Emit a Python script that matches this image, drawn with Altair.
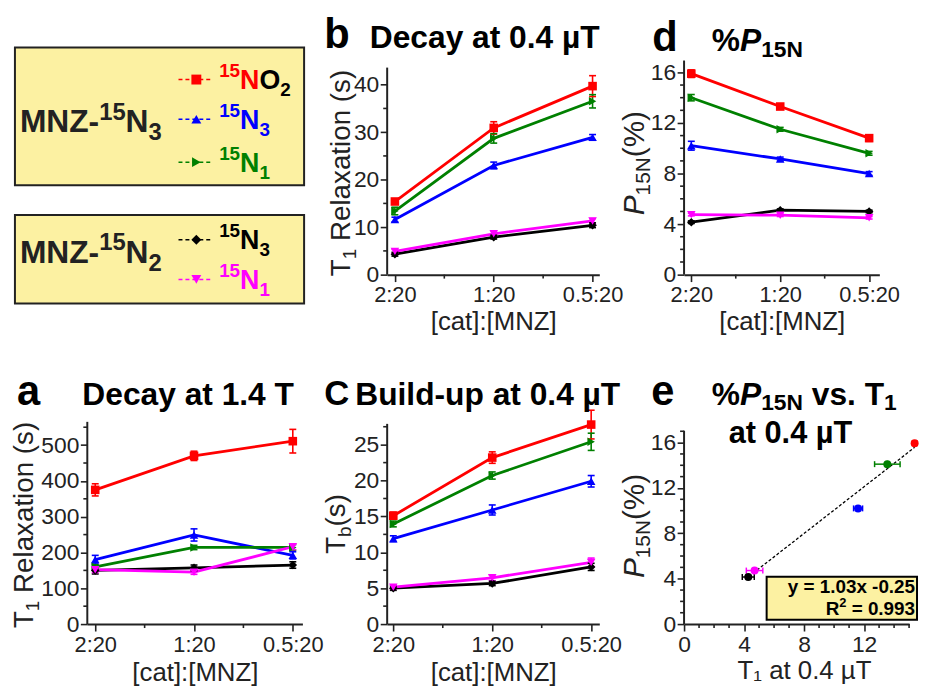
import json
import altair as alt
import pandas as pd

# ---------------- data ----------------
categories = ["2:20", "1:20", "0.5:20"]
series = ["15NO2", "15N3", "15N1", "15N3 (MNZ-15N2)", "15N1 (MNZ-15N2)"]
colors = ["#ff0000", "#0000ff", "#008000", "#000000", "#ff00ff"]
shapes = ["square", "triangle-up", "triangle-right", "diamond", "triangle-down"]

# (a) T1 decay at 1.4 T (s)
a_vals = {"15NO2": [375, 470, 511], "15N3": [180, 249, 192], "15N1": [160, 214, 214],
          "15N3 (MNZ-15N2)": [150, 157, 165], "15N1 (MNZ-15N2)": [152, 145, 216]}
a_errs = {"15NO2": [17, 13, 33], "15N3": [12, 17, 10], "15N1": [6, 6, 8],
          "15N3 (MNZ-15N2)": [10, 8, 9], "15N1 (MNZ-15N2)": [8, 6, 8]}
# (b) T1 decay at 0.4 uT (s)
b_vals = {"15NO2": [15.4, 30.9, 39.7], "15N3": [11.6, 23.0, 28.9], "15N1": [13.4, 28.7, 36.5],
          "15N3 (MNZ-15N2)": [4.3, 7.9, 10.4], "15N1 (MNZ-15N2)": [4.9, 8.6, 11.3]}
b_errs = {"15NO2": [0.5, 1.3, 2.2], "15N3": [0.5, 0.7, 0.6], "15N1": [0.8, 1.0, 1.4],
          "15N3 (MNZ-15N2)": [0.4, 0.4, 0.5], "15N1 (MNZ-15N2)": [0.4, 0.5, 0.5]}
# (c) build-up Tb at 0.4 uT (s)
c_vals = {"15NO2": [15.1, 23.2, 27.8], "15N3": [11.9, 15.9, 19.9], "15N1": [13.95, 20.7, 25.4],
          "15N3 (MNZ-15N2)": [5.0, 5.66, 7.97], "15N1 (MNZ-15N2)": [5.15, 6.45, 8.6]}
c_errs = {"15NO2": [0.5, 0.8, 2.0], "15N3": [0.4, 0.7, 0.8], "15N1": [0.4, 0.5, 1.2],
          "15N3 (MNZ-15N2)": [0.3, 0.3, 0.5], "15N1 (MNZ-15N2)": [0.3, 0.4, 0.6]}
# (d) %P15N
d_vals = {"15NO2": [15.9, 13.3, 10.8], "15N3": [10.2, 9.15, 8.0], "15N1": [14.0, 11.5, 9.6],
          "15N3 (MNZ-15N2)": [4.15, 5.1, 5.0], "15N1 (MNZ-15N2)": [4.75, 4.7, 4.5]}
d_errs = {"15NO2": [0.3, 0.15, 0.25], "15N3": [0.35, 0.15, 0.15], "15N1": [0.25, 0.15, 0.15],
          "15N3 (MNZ-15N2)": [0.1, 0.1, 0.1], "15N1 (MNZ-15N2)": [0.1, 0.1, 0.1]}
# (e) %P15N vs T1 at 0.4 uT (series order as `series`)
e_t = [15.37, 11.6, 13.55, 4.28, 4.7]
e_t_err = [0.15, 0.3, 0.85, 0.4, 0.55]
e_p = [15.94, 10.2, 14.1, 4.15, 4.72]
e_p_err = [0.2, 0.3, 0.3, 0.15, 0.15]
fit_slope, fit_intercept = 1.03, -0.25
fit_x = [4.6, 15.37]

# axis tick values (major with labels, minor without)
a_major, a_minor = list(range(0, 501, 100)), list(range(50, 551, 100))
b_major, b_minor = list(range(0, 41, 10)), list(range(5, 41, 10))
c_major, c_minor = list(range(0, 26, 5)), [2.5, 7.5, 12.5, 17.5, 22.5, 27.5]
d_major = [0, 4, 8, 12, 16]
d_minor = [v for v in range(0, 17) if v % 4]
e_ymajor = [0, 4, 8, 12, 16]
e_yminor = [v for v in range(0, 18) if v % 4]
e_xmajor = [0, 4, 8, 12]
e_xminor = [v for v in range(0, 16) if v % 4]
cat_major, cat_minor = [0, 1, 2], [0.5, 1.5]

# ---------------- style helpers ----------------
FONT = "Liberation Sans"
INK = "#222222"
BLK = "#000000"
BOXFILL = "#fcf1a2"
DUMMY = pd.DataFrame({"k": [0]})
MAJ, MIN = 7, 4
YLAB = 23

W_REG = {' ': 278, '(': 333, ')': 333, '%': 889, '.': 278, '-': 333, ':': 278, '[': 278, ']': 278,
         '=': 584, 'M': 833, 'N': 722, 'O': 778, 'P': 667, 'R': 722, 'T': 611, 'Z': 611, 'C': 722,
         'B': 667, 'D': 722, 'a': 556, 'b': 556, 'c': 500, 'd': 556, 'e': 556, 'i': 222, 'l': 222,
         'n': 556, 'o': 556, 'p': 556, 's': 500, 't': 278, 'u': 556, 'v': 500, 'x': 500, 'y': 500,
         '\u00b5': 556}
W_BOLD = {' ': 278, '(': 333, ')': 333, '%': 889, '.': 278, '-': 333, ':': 333, '=': 584,
          'M': 833, 'N': 722, 'O': 778, 'P': 667, 'R': 722, 'T': 611, 'Z': 611, 'C': 722,
          'B': 722, 'D': 722, 'a': 556, 'b': 611, 'c': 556, 'd': 611, 'e': 556, 'i': 278, 'l': 278,
          'n': 611, 'o': 611, 'p': 611, 's': 556, 't': 333, 'u': 611, 'v': 556, 'x': 556, 'y': 556,
          '\u00b5': 611}


def tw(s, size, bold):
    tab = W_BOLD if bold else W_REG
    return sum(tab.get(ch, 556) for ch in s) * size / 1000.0


def text_mark(t, x, y, size, bold=True, italic=False, color=BLK, align="left", angle=0, dx=0, dy=0):
    kw = dict(text=t, font=FONT, fontSize=size, fontWeight="bold" if bold else "normal",
              fontStyle="italic" if italic else "normal", color=color, align=align,
              baseline="alphabetic")
    if angle:
        kw["angle"] = angle
    if dx:
        kw["dx"] = dx
    if dy:
        kw["dy"] = dy
    return alt.Chart(DUMMY).mark_text(**kw).encode(x=alt.value(x), y=alt.value(y))


def rich(segs, x, y, align="left"):
    total = sum(tw(s[0], s[1], s[2]) for s in segs)
    cur = x - (total if align == "right" else total / 2 if align == "center" else 0)
    out = []
    for t, size, bold, italic, color, shift in segs:
        lead = len(t) - len(t.lstrip(" "))
        out.append(text_mark(t.strip(), cur + tw(" " * lead, size, bold), y + shift, size,
                             bold, italic, color))
        cur += tw(t, size, bold)
    return out


def rich_v(segs, x, cy):
    total = sum(tw(s[0], s[1], s[2]) for s in segs)
    cur = -total / 2
    out = []
    for t, size, bold, italic, color, shift in segs:
        lead = len(t) - len(t.lstrip(" "))
        out.append(text_mark(t.strip(), x, cy, size, bold, italic, color, angle=270,
                             dx=cur + tw(" " * lead, size, bold), dy=shift))
        cur += tw(t, size, bold)
    return out


COL = alt.Color("s:N", scale=alt.Scale(domain=series, range=colors), legend=None)
SHP = alt.Shape("s:N", scale=alt.Scale(domain=series, range=shapes), legend=None)


def long_df(vals, errs):
    rows = []
    for s in series:
        for i, (v, e) in enumerate(zip(vals[s], errs[s])):
            rows.append({"s": s, "xi": i, "v": v, "lo": v - e, "hi": v + e})
    return pd.DataFrame(rows)


def cat_panel(vals, errs, W, H, xdom, ydom, ymajor, yminor, ytop, extra, labpad=3, tpad=3):
    df = long_df(vals, errs)
    xs = alt.Scale(domain=xdom, nice=False, zero=False)
    ys = alt.Scale(domain=ydom, nice=False, zero=False)
    xaxis = alt.Axis(values=cat_major,
                     labelExpr=json.dumps(categories) + "[datum.value]",
                     tickSize=MAJ, title="[cat]:[MNZ]", labelPadding=labpad, titlePadding=tpad)
    yaxis = alt.Axis(values=ymajor, tickSize=MAJ, title=None, domain=False, labelPadding=1.5,
                     format="d", labelFontSize=YLAB)

    def X(f):
        return alt.X(f, scale=xs, axis=xaxis)

    def Y(f):
        return alt.Y(f, scale=ys, axis=yaxis)

    base = alt.Chart(df)
    line = base.mark_line(strokeWidth=2.8).encode(x=X("xi:Q"), y=Y("v:Q"), color=COL)
    yline = alt.Chart(pd.DataFrame({"y0": [ydom[0]], "y1": [ytop]})).mark_rule(
        color=INK, strokeWidth=2).encode(x=alt.value(0), y=Y("y0:Q"), y2="y1:Q")
    mny = alt.Chart(pd.DataFrame({"m": yminor})).mark_rule(color=INK, strokeWidth=1.6).encode(
        y=Y("m:Q"), x=alt.value(0), x2=alt.value(-MIN))
    mnx = alt.Chart(pd.DataFrame({"m": cat_minor})).mark_rule(color=INK, strokeWidth=1.6).encode(
        x=X("m:Q"), y=alt.value(H), y2=alt.value(H + MIN))
    err = base.mark_rule(strokeWidth=1.6).encode(x=X("xi:Q"), y=Y("lo:Q"), y2="hi:Q", color=COL)
    caplo = base.mark_tick(orient="horizontal", size=7, thickness=1.6, opacity=1).encode(
        x=X("xi:Q"), y=Y("lo:Q"), color=COL)
    caphi = base.mark_tick(orient="horizontal", size=7, thickness=1.6, opacity=1).encode(
        x=X("xi:Q"), y=Y("hi:Q"), color=COL)
    pts = base.mark_point(filled=True, size=75, opacity=1).encode(
        x=X("xi:Q"), y=Y("v:Q"), color=COL, shape=SHP)
    return alt.layer(line, yline, mny, mnx, err, caplo, caphi, pts, *extra).properties(width=W, height=H)


def T1_title(x, cy):
    return rich_v([("T", 28, False, False, INK, 0), ("1", 19, False, False, INK, 6),
                   (" Relaxation (s)", 28, False, False, INK, 0)], x, cy)


def P_title(x, cy):
    return rich_v([("P", 30, False, True, INK, 0), ("15N", 21, False, False, INK, 6),
                   ("(%)", 30, False, False, INK, 0)], x, cy)


# ---------------- panels ----------------
pa = cat_panel(a_vals, a_errs, 217, 204, [-0.0803, 2.0973], [0, 565], a_major, a_minor, 565,
               [text_mark("a", -71, -17, 42), text_mark("Decay at 1.4 T", -5, -17, 32)]
               + T1_title(-55, 104), labpad=3.5, tpad=4)

pb = cat_panel(b_vals, b_errs, 214, 216, [-0.0782, 2.0682], [0, 45.09], b_major, b_minor, 43.6,
               [text_mark("b", -63.5, -12.5, 42), text_mark("Decay at 0.4 \u00b5T", -17.5, -12.5, 32)]
               + T1_title(-37.5, 113.5))

pc = cat_panel(c_vals, c_errs, 214, 204, [-0.0621, 2.0822], [0, 28.18], c_major, c_minor, 27.9,
               [text_mark("C", -63.5, -17, 35), text_mark("Build-up at 0.4 \u00b5T", -32.2, -17, 32)]
               + rich_v([("T", 28, False, False, INK, 0), ("b", 19, False, False, INK, 6),
                         ("(s)", 28, False, False, INK, 0)], -42.5, 103), labpad=3.5, tpad=4)

pdd = cat_panel(d_vals, d_errs, 197, 216, [-0.0814, 2.1148], [0, 16.94], d_major, d_minor, 16.94,
                [text_mark("d", -32, -9.5, 42)]
                + rich([("%", 32, True, False, BLK, 0), ("P", 32, True, True, BLK, 0),
                        ("15N", 23, True, False, BLK, 6)], 28, -9.5)
                + P_title(-40, 103.5))

# panel e
edf = pd.DataFrame({"s": series, "t": e_t, "p": e_p,
                    "tlo": [t - e for t, e in zip(e_t, e_t_err)], "thi": [t + e for t, e in zip(e_t, e_t_err)],
                    "plo": [p - e for p, e in zip(e_p, e_p_err)], "phi": [p + e for p, e in zip(e_p, e_p_err)]})
fitdf = pd.DataFrame({"t": fit_x, "p": [fit_slope * x + fit_intercept for x in fit_x]})
EW, EH = 227, 204
exs = alt.Scale(domain=[0, 15], nice=False, zero=False)
eys = alt.Scale(domain=[0, 17.83], nice=False, zero=False)
ex_axis = alt.Axis(values=e_xmajor, tickSize=MAJ, title="T\u2081 at 0.4 \u00b5T", format="d",
                   titleX=121, labelPadding=2.5, titlePadding=1.5, labelFontSize=YLAB)
ey_axis = alt.Axis(values=e_ymajor, tickSize=MAJ, title=None, domain=False, labelPadding=1.5, format="d",
                   labelFontSize=YLAB)


def EX(f):
    return alt.X(f, scale=exs, axis=ex_axis)


def EY(f):
    return alt.Y(f, scale=eys, axis=ey_axis)


eb = alt.Chart(edf)
e_layers = [
    alt.Chart(fitdf).mark_line(color=BLK, strokeWidth=1.3, strokeDash=[3, 2]).encode(
        x=EX("t:Q"), y=EY("p:Q")),
    alt.Chart(pd.DataFrame({"y0": [0], "y1": [17.05]})).mark_rule(color=INK, strokeWidth=2).encode(
        x=alt.value(0), y=EY("y0:Q"), y2="y1:Q"),
    alt.Chart(pd.DataFrame({"m": e_yminor})).mark_rule(color=INK, strokeWidth=1.6).encode(
        y=EY("m:Q"), x=alt.value(0), x2=alt.value(-MIN)),
    alt.Chart(pd.DataFrame({"m": e_xminor})).mark_rule(color=INK, strokeWidth=1.6).encode(
        x=EX("m:Q"), y=alt.value(EH), y2=alt.value(EH + MIN)),
    eb.mark_rule(strokeWidth=1.5).encode(x=EX("tlo:Q"), x2="thi:Q", y=EY("p:Q"), color=COL),
    eb.mark_rule(strokeWidth=1.5).encode(x=EX("t:Q"), y=EY("plo:Q"), y2="phi:Q", color=COL),
    eb.mark_tick(orient="vertical", size=6, thickness=1.5, opacity=1).encode(
        x=EX("tlo:Q"), y=EY("p:Q"), color=COL),
    eb.mark_tick(orient="vertical", size=6, thickness=1.5, opacity=1).encode(
        x=EX("thi:Q"), y=EY("p:Q"), color=COL),
    eb.mark_point(filled=True, size=65, opacity=1, shape="circle").encode(x=EX("t:Q"), y=EY("p:Q"), color=COL),
    # equation box
    alt.Chart(DUMMY).mark_rect(fill=BOXFILL, stroke=BLK, strokeWidth=2).encode(
        x=alt.value(83.3), x2=alt.value(235), y=alt.value(156.3), y2=alt.value(199.7)),
    text_mark("y = 1.03x -0.25", 233, 172.5, 19, align="right"),
    text_mark("e", -33, -17, 42),
    text_mark("at 0.4 \u00b5T", 45, 21, 31),
]
e_layers += rich([("R", 19, True, False, BLK, 0), ("2", 13, True, False, BLK, -8),
                  (" = 0.993", 19, True, False, BLK, 0)], 233, 195, align="right")
e_layers += rich([("%", 32, True, False, BLK, 0), ("P", 32, True, True, BLK, 0),
                  ("15N", 23, True, False, BLK, 5), (" vs. T", 32, True, False, BLK, 0),
                  ("1", 23, True, False, BLK, 5)], 28, -17)
e_layers += P_title(-40, 105)
pe = alt.layer(*e_layers).properties(width=EW, height=EH)

# ---------------- legend panel ----------------
leg = [
    alt.Chart(DUMMY).mark_rule(strokeWidth=0.5, strokeOpacity=0, color="white").encode(
        x=alt.value(-80), x2=alt.value(-80), y=alt.value(-49.5), y2=alt.value(-49.5)),
    alt.Chart(DUMMY).mark_rect(fill=BOXFILL, stroke=INK, strokeWidth=2).encode(
        x=alt.value(-73), x2=alt.value(218.7), y=alt.value(-13.2), y2=alt.value(125.8)),
    alt.Chart(DUMMY).mark_rect(fill=BOXFILL, stroke=INK, strokeWidth=2).encode(
        x=alt.value(-73), x2=alt.value(218.7), y=alt.value(155.8), y2=alt.value(245.2)),
]
leg += rich([("MNZ-", 32, True, False, INK, 0), ("15", 24, True, False, INK, -13),
             ("N", 32, True, False, INK, 0), ("3", 24, True, False, INK, 8)], -68, 72.5)
leg += rich([("MNZ-", 32, True, False, INK, 0), ("15", 24, True, False, INK, -13),
             ("N", 32, True, False, INK, 0), ("2", 24, True, False, INK, 8)], -68, 204.5)
entry_y = [19.2, 59.2, 102.5, 180.8, 220.8]
entry_txt = [
    [("15", 19, 0, -12), ("N", 27, 0, 0), ("O", 27, 1, 0), ("2", 19, 1, 7)],
    [("15", 19, 0, -12), ("N", 27, 0, 0), ("3", 19, 0, 7)],
    [("15", 19, 0, -12), ("N", 27, 0, 0), ("1", 19, 0, 7)],
    [("15", 19, 0, -12), ("N", 27, 0, 0), ("3", 19, 0, 7)],
    [("15", 19, 0, -12), ("N", 27, 0, 0), ("1", 19, 0, 7)],
]
for yl, c, shp, segs in zip(entry_y, colors, shapes, entry_txt):
    leg.append(alt.Chart(DUMMY).mark_rule(color=c, strokeWidth=1.5, strokeDash=[4, 3]).encode(
        x=alt.value(92), x2=alt.value(127), y=alt.value(yl)))
    leg.append(alt.Chart(DUMMY).mark_point(shape=shp, filled=True, size=100, opacity=1, color=c).encode(
        x=alt.value(110), y=alt.value(yl)))
    leg += rich([(t, sz, True, False, (BLK if black else c), sh) for t, sz, black, sh in segs], 133, yl + 9.7)
legend = alt.layer(*leg).properties(width=217, height=216)

chart = alt.concat(
    legend, pb, pdd, pa, pc, pe, columns=3,
    spacing={"row": 148.5, "column": 85.5}, bounds="flush", align="each",
).properties(padding=0).configure_view(stroke=None).configure_axis(
    domainColor=INK, domainWidth=2, tickColor=INK, tickWidth=1.6, labelFont=FONT, labelFontSize=22,
    labelColor=INK, titleFont=FONT, titleFontSize=26, titleFontWeight="normal", titleColor=INK,
    grid=False, labelFlush=False, labelOverlap=False)

chart.save("out.html", embed_options={"renderer": "svg", "actions": False})
